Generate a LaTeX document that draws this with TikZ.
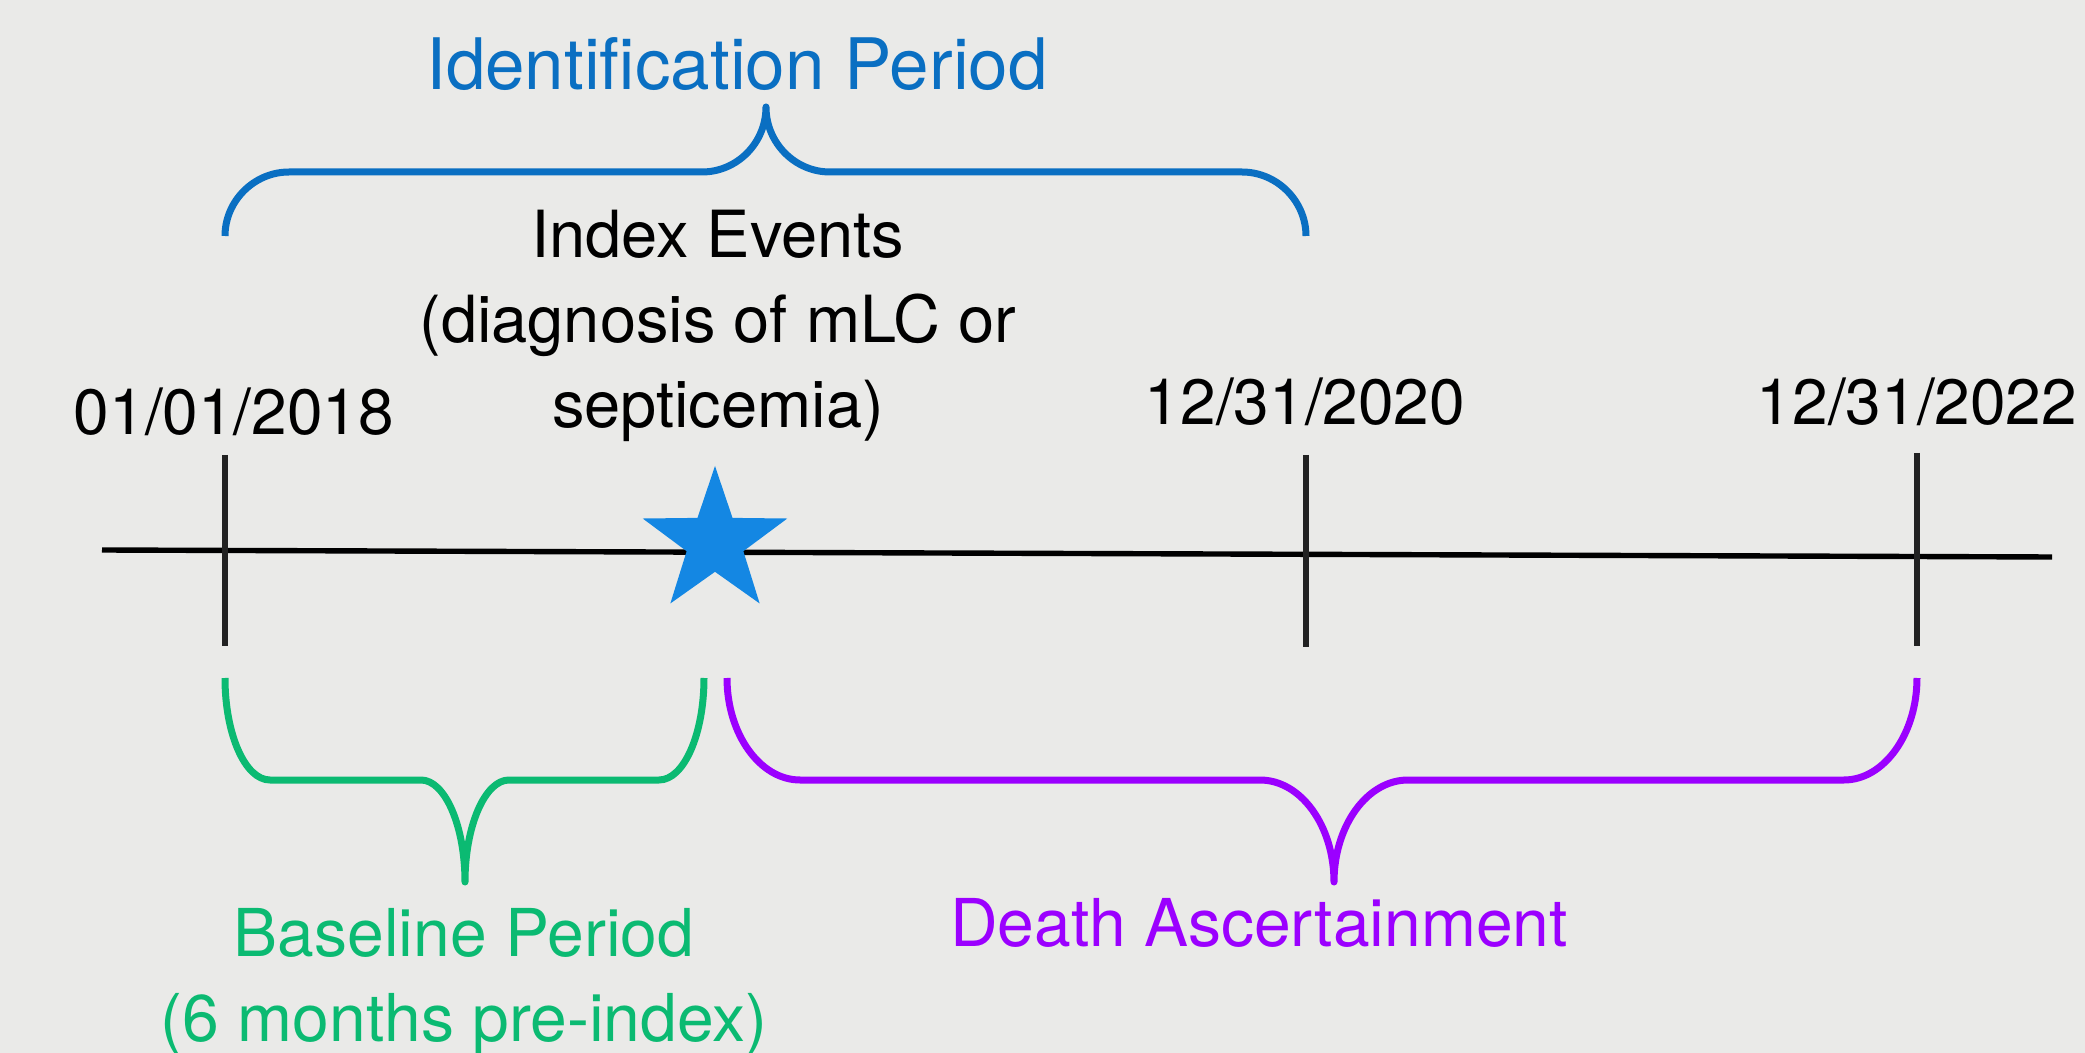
\documentclass[tikz,border=0pt]{standalone}
\usepackage{fontspec}
\setmainfont{TeX Gyre Heros}
\usetikzlibrary{shapes.geometric}
\definecolor{bgc}{HTML}{EAEAE8}
\definecolor{idblue}{HTML}{0A6FC2}
\definecolor{starblue}{HTML}{1487E3}
\definecolor{basegreen}{HTML}{0BBA72}
\definecolor{deathpurple}{HTML}{9B00FF}
\definecolor{tickgray}{HTML}{222222}
\begin{document}
\begin{tikzpicture}[x=0.5pt,y=-0.5pt,
  lbl/.style={font=\fontsize{32}{42.5}\selectfont, inner sep=0pt, anchor=base, align=center},
  wlbl/.style={lbl, font=\fontsize{33}{42.5}\selectfont},
  bigl/.style={font=\fontsize{35.5}{42.5}\selectfont, inner sep=0pt, anchor=base},
  brace/.style={line width=3.5pt, line cap=butt, line join=round},
  tick/.style={draw=tickgray, line width=2.6pt},
  axis/.style={draw=black, line width=2.7pt}]
\fill[bgc] (0,0) rectangle (2085,1053);
\useasboundingbox (0,0) rectangle (2085,1053);

% timeline
\coordinate (tl) at (102,550);
\coordinate (tr) at (2052,557);
\draw[axis] (tl) -- (tr);

% ticks
\coordinate (t1a) at (225,455); \coordinate (t1b) at (225,646);
\coordinate (t2a) at (1306,455); \coordinate (t2b) at (1306,647);
\coordinate (t3a) at (1917,453); \coordinate (t3b) at (1917,646);
\draw[tick] (t1a) -- (t1b);
\draw[tick] (t2a) -- (t2b);
\draw[tick] (t3a) -- (t3b);

% star
\node[star, star points=5, star point ratio=2.55, fill=starblue, draw=none,
      minimum size=76pt, inner sep=0pt] (idx) at (715,542) {};

% identification brace
\draw[brace, draw=idblue] (225,236) .. controls (225,201) and (254,172) .. (289,172)
  -- (702,172) .. controls (737,172) and (766,143) .. (766,107)
  .. controls (766,143) and (795,172) .. (830,172)
  -- (1242,172) .. controls (1277,172) and (1306,201) .. (1306,236);

% baseline brace
\draw[brace, draw=basegreen] (225,678) .. controls (225,734) and (245,780) .. (270,780)
  -- (421,780) .. controls (445,780) and (465,826) .. (465,882)
  .. controls (465,826) and (485,780) .. (509,780)
  -- (659,780) .. controls (684,780) and (704,734) .. (704,678);

% death brace
\draw[brace, draw=deathpurple] (727,678) .. controls (727,734) and (760,780) .. (800,780)
  -- (1260,780) .. controls (1301,780) and (1334,826) .. (1334,882)
  .. controls (1334,826) and (1367,780) .. (1408,780)
  -- (1844,780) .. controls (1884,780) and (1917,734) .. (1917,678);

% texts
\node[bigl, text=idblue] (ident) at (737,90) {Identification Period};
\node[lbl, text=black, font=\fontsize{32.5}{42.5}\selectfont] (events) at (718,428) {Index Events\\(diagnosis of mLC or\\septicemia)};
\node[lbl, text=black] (d1) at (234,435) {01/01/2018};
\node[lbl, text=black] (d2) at (1305,425) {12/31/2020};
\node[lbl, text=black] (d3) at (1917,425) {12/31/2022};
\node[wlbl, text=basegreen] (basel) at (464,1041) {Baseline Period\\(6 months pre-index)};
\node[wlbl, text=deathpurple] (death) at (1259,946) {Death Ascertainment};
\end{tikzpicture}
\end{document}
